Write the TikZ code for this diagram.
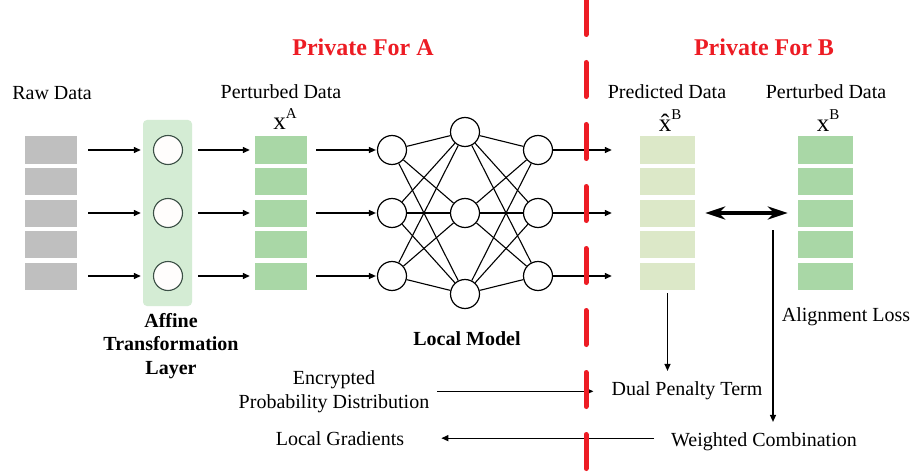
\documentclass[tikz,border=0pt]{standalone}
\usepackage{fontspec}
\setmainfont{Liberation Serif}
\usetikzlibrary{arrows.meta}
\definecolor{rawgray}{HTML}{BFBFBF}
\definecolor{pgreen}{HTML}{A9D7A6}
\definecolor{predgreen}{HTML}{DCE8C8}
\definecolor{colgreen}{HTML}{D4ECD4}
\definecolor{redline}{HTML}{ED1C24}
\definecolor{circborder}{HTML}{3C5046}
\definecolor{circfill}{HTML}{FFFDFC}
\begin{document}
\begin{tikzpicture}[x=1pt,y=-1pt,
  arr/.style={-{Triangle[length=7pt,width=6pt]},line width=1.3pt},
  blk/.style={minimum width=52pt,minimum height=27pt,inner sep=0pt,draw=none},
  txt/.style={font=\fontsize{20}{23.5}\selectfont,inner sep=0pt,anchor=base},
  btxt/.style={font=\fontsize{20}{23.5}\selectfont\bfseries,inner sep=0pt},
  ttl/.style={font=\fontsize{24}{28}\selectfont\bfseries,text=redline,inner sep=0pt,anchor=base},
  xlbl/.style={font=\fontsize{25}{25}\selectfont,inner sep=0pt,anchor=base},
  ncirc/.style={circle,draw,line width=1.2pt,fill=white,minimum size=29pt,inner sep=0pt},
  acirc/.style={circle,draw=circborder,line width=1.1pt,fill=circfill,minimum size=29pt,inner sep=0pt},
  nnline/.style={line width=1.1pt}
]
\useasboundingbox[fill=white] (0,0) rectangle (915,476);

% data blocks
\foreach \i/\y in {1/150,2/181.5,3/213,4/244.5,5/276} {
  \node[blk,fill=rawgray] (r\i) at (51,\y) {};
  \node[blk,fill=pgreen] (pa\i) at (281,\y) {};
  \node[blk,fill=predgreen,minimum width=55pt] (pd\i) at (667.5,\y) {};
  \node[blk,fill=pgreen,minimum width=55pt] (pb\i) at (825.5,\y) {};
}

% affine layer
\node[fill=colgreen,rounded corners=4pt,minimum width=49pt,minimum height=186pt,inner sep=0pt] (col) at (167.5,213) {};
\node[acirc] (a1) at (168,150) {};
\node[acirc] (a2) at (168,213) {};
\node[acirc] (a3) at (168,276) {};

% network
\node[ncirc] (in1) at (392,150) {};
\node[ncirc] (in2) at (392,213) {};
\node[ncirc] (in3) at (392,276) {};
\node[ncirc] (h1) at (465,132) {};
\node[ncirc] (h2) at (465,213) {};
\node[ncirc] (h3) at (465,294) {};
\node[ncirc] (o1) at (538,150) {};
\node[ncirc] (o2) at (538,213) {};
\node[ncirc] (o3) at (538,276) {};
\foreach \a in {1,2,3} {
  \foreach \b in {1,2,3} {
    \draw[nnline] (in\a) -- (h\b);
    \draw[nnline] (h\a) -- (o\b);
  }
}

% arrows in the top row
\foreach \i/\j in {1/1,3/2,5/3} {
  \draw[arr,shorten <=11pt,shorten >=2pt] (r\i.east) -- (r\i.east -| col.west);
  \draw[arr,shorten <=15pt,shorten >=5pt] (a\j.east) -- (pa\i.west);
  \draw[arr,shorten <=9pt,shorten >=1pt] (pa\i.east) -- (in\j.west);
  \draw[arr,shorten >=28pt] (o\j.east) -- (pd\i.west);
}

% labels
\node[txt] (rawlbl) at (52,99.5) {Raw Data};
\node[txt] (palbl) at (281,99) {Perturbed Data};
\node[txt] (pdlbl) at (667,99) {Predicted Data};
\node[txt] (pblbl) at (826,99) {Perturbed Data};
\node[ttl] (pfa) at (363,56) {Private For A};
\node[ttl] (pfb) at (764,56) {Private For B};
\node[xlbl] (xa) at (285,130) {x\raisebox{12pt}{\fontsize{15}{15}\selectfont A}};
\node[xlbl] (xhb) at (670,131.5) {\^{x}\raisebox{12pt}{\fontsize{15}{15}\selectfont B}};
\node[xlbl] (xb) at (828,131.5) {x\raisebox{12pt}{\fontsize{15}{15}\selectfont B}};
\node[btxt,align=center] (aff) at (171,345.8) {Affine\\Transformation\\Layer};
\node[btxt,anchor=base] (lm) at (467,345) {Local Model};
\node[txt] (al) at (846,321.5) {Alignment Loss};
\node[txt] (dp) at (687,395) {Dual Penalty Term};
\node[txt] (wc) at (764,446) {Weighted Combination};
\node[txt] (lg) at (340,445) {Local Gradients};
\node[font=\fontsize{20}{24}\selectfont,inner sep=0pt,align=center] (enc) at (334,391.3) {Encrypted\\Probability Distribution};

% alignment double arrow
\draw[line width=4.5pt,{Stealth[length=20pt,width=13pt]}-{Stealth[length=20pt,width=13pt]},shorten <=10pt,shorten >=10pt] (pd3.east) -- (pb3.west);

% lower connectors
\coordinate (alt) at (773,230);
\draw[arr,shorten >=10pt] (alt) -- (alt |- wc.north);
\draw[arr,shorten <=3.5pt,shorten >=10pt] (pd5.south) -- (pd5.south |- dp.north);
\draw[arr,shorten <=8pt,shorten >=18pt] (enc.east) -- (enc.east -| dp.west);
\draw[arr,shorten <=17pt,shorten >=37pt] (lg.east -| wc.west) -- (lg.east);

% privacy boundary
\draw[redline,line width=5pt,line cap=round,dash pattern=on 34pt off 28pt] (586,0.5) -- (586,476);
\end{tikzpicture}
\end{document}
